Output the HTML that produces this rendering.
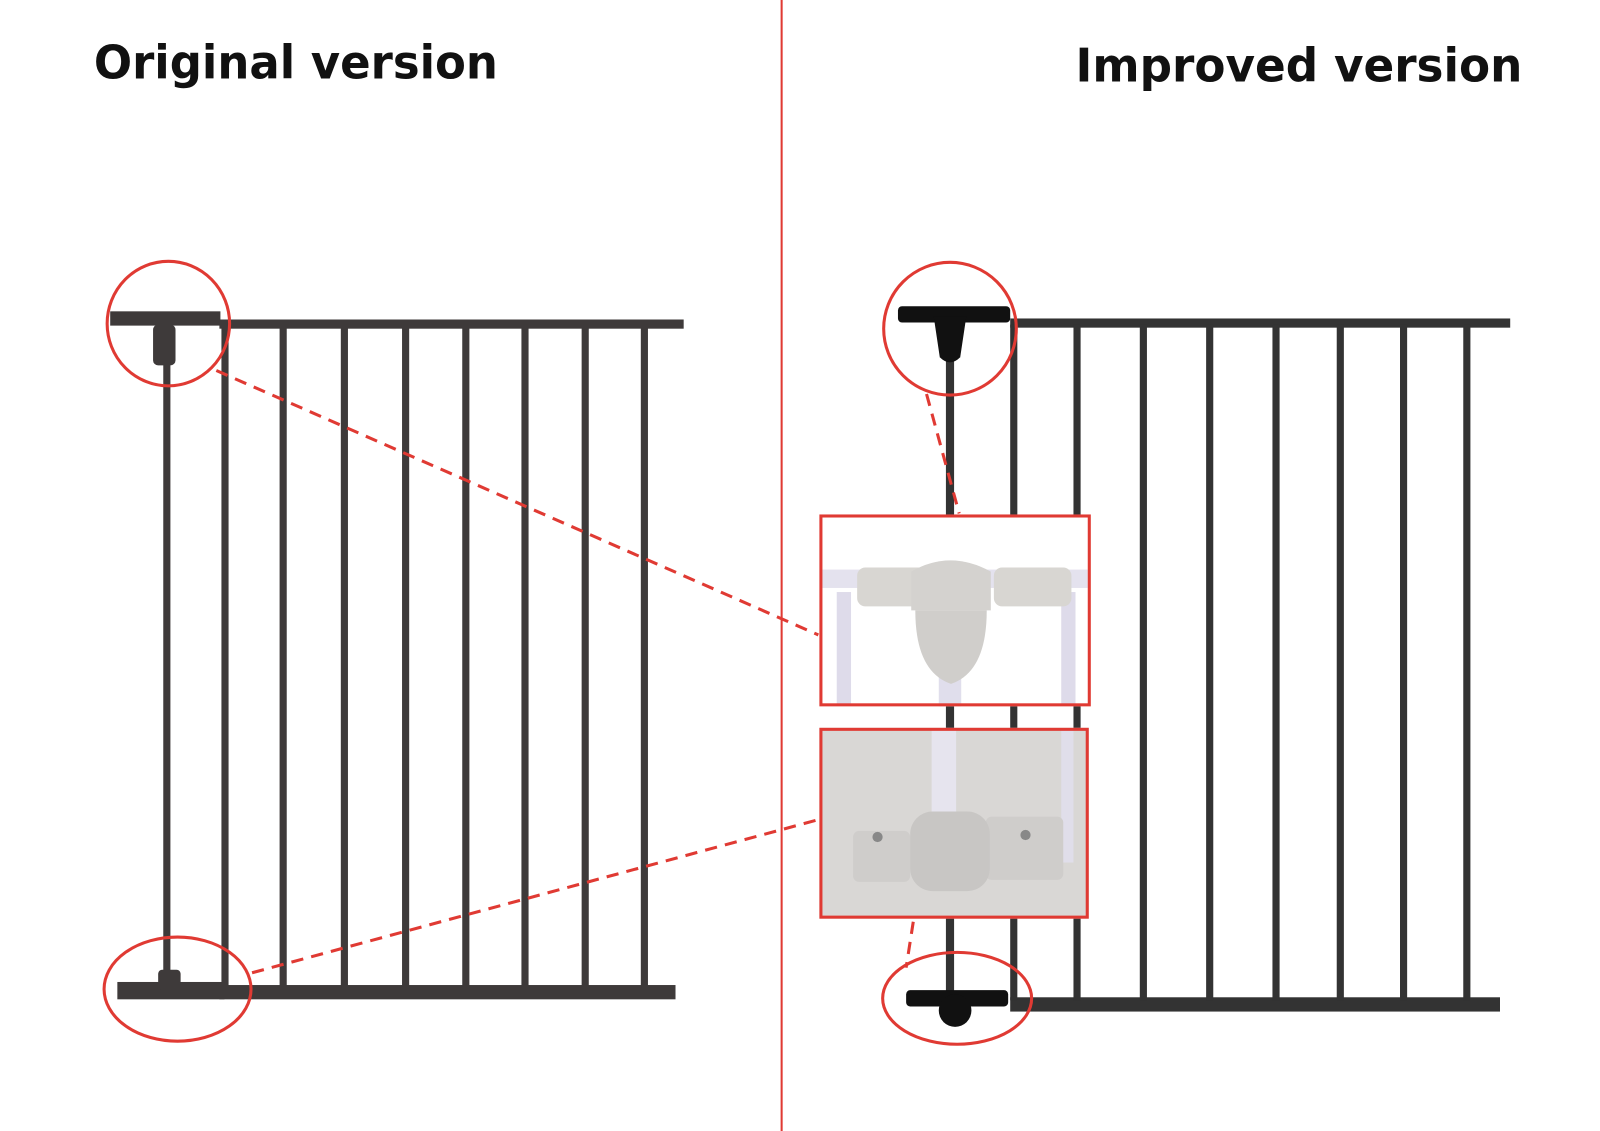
<!DOCTYPE html>
<html><head><style>
html,body{margin:0;padding:0;background:#fff;}
svg{display:block;}
text{font-family:"DejaVu Sans","Liberation Sans",sans-serif;font-weight:bold;fill:#111;}
</style></head><body>
<svg width="1600" height="1131" viewBox="0 0 1568 1108" preserveAspectRatio="none" xmlns="http://www.w3.org/2000/svg">
<rect width="1568" height="1108" fill="#fff"/>
<line x1="766" y1="0" x2="766" y2="1108" stroke="#e03a33" stroke-width="2"/>
<text x="92" y="77" font-size="45" textLength="396" lengthAdjust="spacingAndGlyphs">Original version</text>
<text x="1054" y="80" font-size="45" textLength="438" lengthAdjust="spacingAndGlyphs">Improved version</text>

<!-- left gate -->
<g fill="#3e3a3a">
<rect x="215" y="313" width="455" height="9"/>
<rect x="215" y="965" width="447" height="14"/>
<rect x="217" y="318" width="7" height="650"/>
<rect x="274" y="318" width="7" height="650"/>
<rect x="334" y="318" width="7" height="650"/>
<rect x="394" y="318" width="7" height="650"/>
<rect x="453" y="318" width="7" height="650"/>
<rect x="511" y="318" width="7" height="650"/>
<rect x="570" y="318" width="7" height="650"/>
<rect x="628" y="318" width="7" height="650"/>
<rect x="160" y="320" width="7" height="640"/>
<rect x="108" y="305" width="108" height="14"/>
<rect x="150" y="318" width="22" height="40" rx="5"/>
<rect x="115" y="962" width="105" height="17"/>
<rect x="155" y="950" width="22" height="20" rx="4"/>
</g>

<!-- right gate -->
<g fill="#333">
<rect x="990" y="312" width="490" height="9"/>
<rect x="990" y="977" width="480" height="14"/>
<rect x="990" y="318" width="7" height="662"/>
<rect x="1052" y="318" width="7" height="662"/>
<rect x="1117" y="318" width="7" height="662"/>
<rect x="1182" y="318" width="7" height="662"/>
<rect x="1247" y="318" width="7" height="662"/>
<rect x="1310" y="318" width="7" height="662"/>
<rect x="1372" y="318" width="7" height="662"/>
<rect x="1434" y="318" width="7" height="662"/>
<rect x="927" y="320" width="8" height="665"/>
</g>
<g fill="#111">
<rect x="880" y="300" width="110" height="16" rx="4"/>
<path d="M915 310 h32 l-6 40 q-10 10 -20 0z"/>
<rect x="888" y="970" width="100" height="16" rx="4"/>
<circle cx="936" cy="990" r="16"/>
</g>

<!-- circles -->
<g fill="none" stroke="#e03a33" stroke-width="3">
<ellipse cx="165" cy="317" rx="60" ry="61"/>
<ellipse cx="174" cy="969" rx="72" ry="51"/>
<ellipse cx="931" cy="322" rx="65" ry="65"/>
<ellipse cx="938" cy="978" rx="73" ry="45"/>
</g>
<g stroke="#e03a33" stroke-width="3" stroke-dasharray="12,8">
<line x1="212" y1="363" x2="802" y2="622"/>
<line x1="247" y1="953" x2="802" y2="803"/>
<line x1="908" y1="386" x2="940" y2="503"/>
<line x1="895" y1="903" x2="888" y2="948"/>
</g>

<!-- inset 1 -->
<rect x="803" y="504" width="266" height="188" fill="#fff"/>
<g>
<rect x="806" y="558" width="260" height="18" fill="#e4e2ee"/>
<rect x="820" y="580" width="14" height="110" fill="#dedbea"/>
<rect x="1040" y="580" width="14" height="110" fill="#dedbea"/>
<rect x="920" y="660" width="22" height="32" fill="#e0deec"/>
<rect x="840" y="556" width="80" height="38" rx="8" fill="#d8d6d2"/>
<rect x="974" y="556" width="76" height="38" rx="8" fill="#d8d6d2"/>
<path d="M893 560 q38 -22 78 0 v38 h-78z" fill="#d4d2cf"/>
<path d="M897 598 h70 q0 60 -35 72 q-35 -12 -35 -72z" fill="#d0cecb"/>
</g>
<rect x="804.5" y="505.5" width="263" height="185" fill="none" stroke="#e03a33" stroke-width="3"/>

<!-- inset 2 -->
<rect x="803" y="713" width="264" height="187" fill="#d9d7d5"/>
<rect x="913" y="715" width="24" height="90" fill="#e6e4ee"/>
<rect x="1040" y="715" width="12" height="130" fill="#e0deea"/>
<rect x="836" y="814" width="56" height="50" rx="6" fill="#cfcdcb"/>
<rect x="966" y="800" width="76" height="62" rx="6" fill="#cfcdcb"/>
<rect x="892" y="795" width="78" height="78" rx="22" fill="#c8c6c4"/>
<circle cx="860" cy="820" r="5" fill="#888"/>
<circle cx="1005" cy="818" r="5" fill="#888"/>
<rect x="804.5" y="714.5" width="261" height="184" fill="none" stroke="#e03a33" stroke-width="3"/>
</svg>
</body></html>
